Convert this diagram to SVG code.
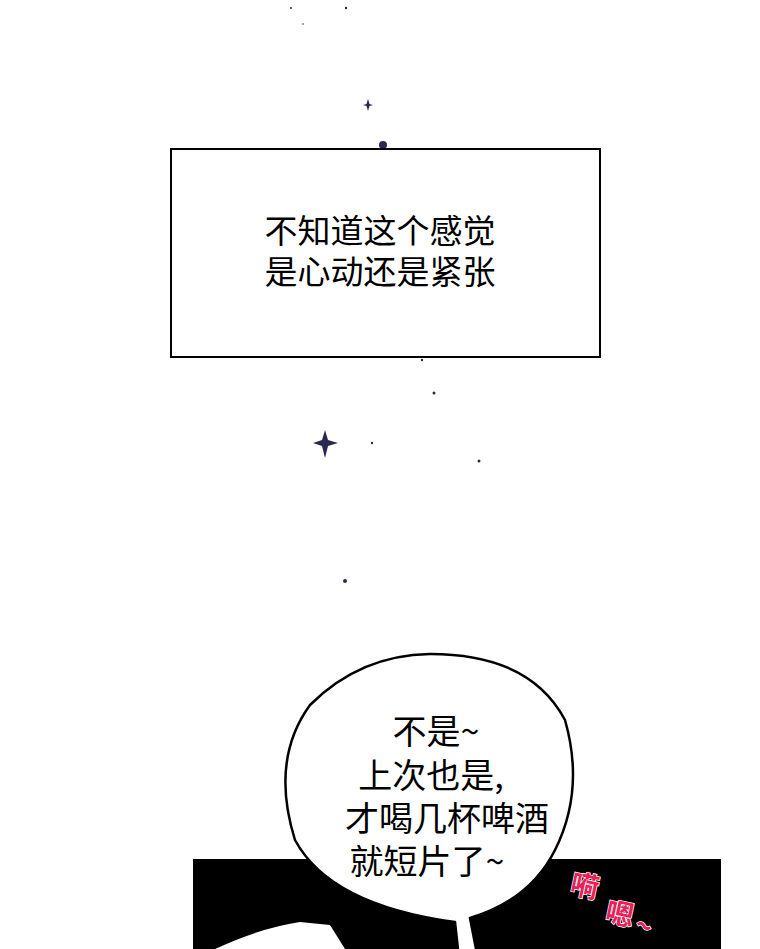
<svg xmlns="http://www.w3.org/2000/svg" width="760" height="949" viewBox="0 0 760 949">
<style>
.t{font-family:"Noto Sans CJK SC","Liberation Sans",sans-serif;font-weight:400;fill:#000;text-anchor:middle}
.s{fill:#2a2a50}
.p{font-family:"Noto Sans CJK SC",sans-serif;fill:#e8205a;stroke:#fff;stroke-width:1.5;paint-order:stroke;font-weight:bold;font-size:28px}
</style>
<rect width="760" height="949" fill="#fff"/>
<g id="stars">
<circle class="s" cx="291" cy="8" r="1"/><circle class="s" cx="303" cy="24" r="0.8"/><circle class="s" cx="346" cy="8" r="1.2"/>
<path class="s" d="M368 99 L369.5 104 L373 105 L369.5 106 L368 111 L366.5 106 L363 105 L366.5 104Z"/>
<circle class="s" cx="383" cy="145" r="4"/>
<circle class="s" cx="422" cy="360" r="1.2"/><circle class="s" cx="434" cy="393" r="1.5"/>
<path class="s" d="M325 430 L328 440 L338 443 L328 446 L325 458 L322 446 L313 443 L322 440Z"/>
<circle class="s" cx="372" cy="443" r="1.2"/><circle class="s" cx="479" cy="461" r="1.5"/><circle class="s" cx="345" cy="581" r="2"/>
</g>
<g id="box">
<rect x="171" y="149" width="429" height="208" fill="#fff" stroke="#000" stroke-width="2"/>
<text class="t" font-size="33" x="380" y="243">不知道这个感觉</text>
<text class="t" font-size="33" x="380" y="284">是心动还是紧张</text>
</g>
<g id="dark">
<rect x="193" y="859" width="528" height="90" fill="#000"/>
<path d="M215 949 Q260 928 300 922 L330 925 L345 949Z" fill="#fff"/>
</g>
<g id="bubble">
<path d="M458 949 L455 922 Q330 905 295 840 Q270 760 310 705 Q360 655 430 654 Q530 654 565 720 Q585 790 555 850 Q530 900 470 918 L476 949" fill="#fff" stroke="#000" stroke-width="2.5"/>
<text class="t" font-size="34" x="436" y="744">不是~</text>
<text class="t" font-size="34" x="431" y="788">上次也是,</text>
<text class="t" font-size="34" x="447" y="831">才喝几杯啤酒</text>
<text class="t" font-size="34" x="427" y="874">就短片了~</text>
</g>
<g id="sfx">
<text class="p" x="569" y="893" transform="rotate(12 569 893)">嗬</text>
<text class="p" x="604" y="921" transform="rotate(12 604 921)">嗯</text>
<text class="p" x="632" y="932" font-size="30" transform="rotate(25 632 932)">~</text>
</g>
</svg>
